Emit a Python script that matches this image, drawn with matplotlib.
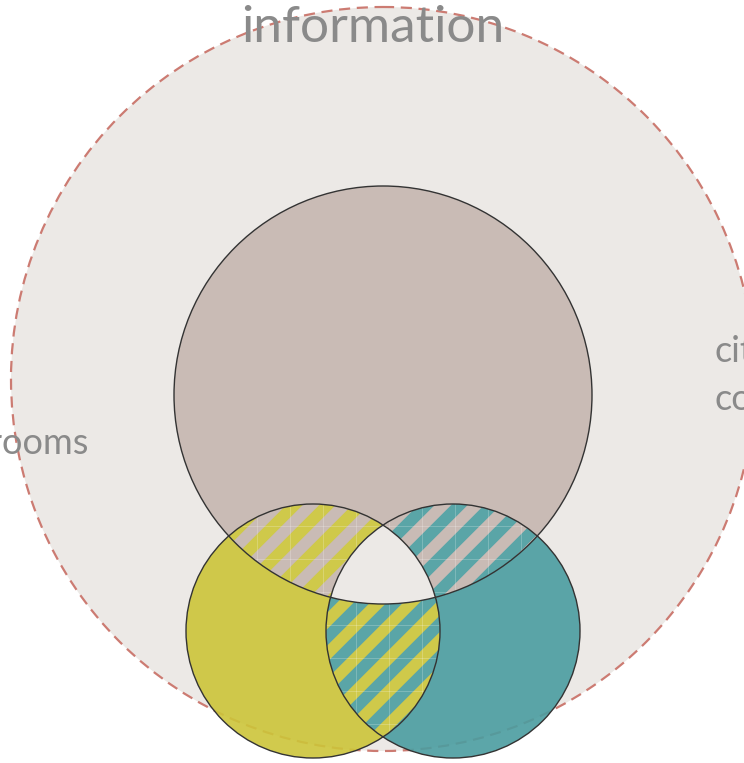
import numpy as np
import matplotlib.pyplot as plt
from matplotlib.patches import Circle, Polygon
from matplotlib.collections import LineCollection

# circles: outer dashed set, inner set, two lower sets
circle_names = ["information", "inner", "classrooms", "city councils"]
circle_x = [383, 383, 313, 453]
circle_y = [379, 395, 631, 631]
circle_r = [372, 209, 127, 127]
circle_colors = ["#ece9e6", "#c9bbb5", "#cfc94a", "#5aa5a7"]
# the two lower sets are slightly see-through; these give the same look at alpha 0.9
fill_colors = ["#ece9e6", "#c9bbb5", "#ccc539", "#4a9da0"]

# pairs of overlapping sets that get striped (indices into the lists above)
striped_pairs = [(1, 2), (1, 3), (2, 3)]

label_text = ["information", "classrooms", "city", "councils"]

text_color = "#8a8a8a"
edge_color = "#333333"
dash_color = "#cc7b72"


def circle_poly(i, n=720):
    t = np.linspace(0, 2 * np.pi, n, endpoint=False)
    return [(circle_x[i] + circle_r[i] * np.cos(a), circle_y[i] + circle_r[i] * np.sin(a)) for a in t]


def clip_convex(subject, clipper):
    # Sutherland-Hodgman, both polygons convex with the same orientation
    def inside(p, a, b):
        return (b[0] - a[0]) * (p[1] - a[1]) - (b[1] - a[1]) * (p[0] - a[0]) >= 0

    def cross_pt(s, p, a, b):
        x1, y1 = s
        x2, y2 = p
        x3, y3 = a
        x4, y4 = b
        d = (x1 - x2) * (y3 - y4) - (y1 - y2) * (x3 - x4)
        u = ((x1 - x3) * (y3 - y4) - (y1 - y3) * (x3 - x4)) / d
        return (x1 + u * (x2 - x1), y1 + u * (y2 - y1))

    out = list(subject)
    for k in range(len(clipper)):
        a = clipper[k]
        b = clipper[(k + 1) % len(clipper)]
        inp = out
        out = []
        if not inp:
            break
        s = inp[-1]
        for p in inp:
            if inside(p, a, b):
                if not inside(s, a, b):
                    out.append(cross_pt(s, p, a, b))
                out.append(p)
            elif inside(s, a, b):
                out.append(cross_pt(s, p, a, b))
            s = p
    return out


fig = plt.figure(figsize=(7.44, 7.63), dpi=100)
ax = fig.add_axes([0, 0, 1, 1])
ax.set_xlim(0, 744)
ax.set_ylim(763, 0)
ax.set_aspect("equal")
ax.axis("off")

# big outer set
ax.add_patch(Circle((circle_x[0], circle_y[0]), circle_r[0], facecolor=circle_colors[0],
                    edgecolor="none", zorder=1))
ax.add_patch(Circle((circle_x[0], circle_y[0]), circle_r[0], facecolor="none",
                    edgecolor=dash_color, lw=1.6, linestyle=(0, (5, 3)), zorder=2))

ax.add_patch(Circle((circle_x[1], circle_y[1]), circle_r[1], facecolor=circle_colors[1],
                    edgecolor="none", zorder=3))
for i in (2, 3):
    ax.add_patch(Circle((circle_x[i], circle_y[i]), circle_r[i], facecolor=fill_colors[i],
                        edgecolor="none", alpha=0.9, zorder=4))

polys = [circle_poly(i) for i in range(4)]

# striped overlaps
period = 33
for a, b in striped_pairs:
    lens = clip_convex(polys[a], polys[b])
    clip_patch = Polygon(lens, closed=True, facecolor=circle_colors[a], edgecolor="none", zorder=5)
    ax.add_patch(clip_patch)
    segs = []
    for c in np.arange(7.5 - 60 * period, 7.5 + 60 * period, period):
        segs.append([(c - 1000, 1000), (c + 1000, -1000)])
    stripes = LineCollection(segs, colors=circle_colors[b], linewidths=8.4, capstyle="butt", zorder=6)
    stripes.set_clip_path(clip_patch)
    ax.add_collection(stripes)
    grid = []
    for gx in np.arange(26, 744, period):
        grid.append([(gx, 0), (gx, 763)])
    for gy in np.arange(31, 763, period):
        grid.append([(0, gy), (744, gy)])
    gl = LineCollection(grid, colors="white", linewidths=0.7, alpha=0.22, zorder=7)
    gl.set_clip_path(clip_patch)
    ax.add_collection(gl)

# centre where all three meet
triple = clip_convex(clip_convex(polys[1], polys[2]), polys[3])
ax.add_patch(Polygon(triple, closed=True, facecolor=circle_colors[0], edgecolor="none", zorder=8))

for i in (1, 2, 3):
    ax.add_patch(Circle((circle_x[i], circle_y[i]), circle_r[i], facecolor="none",
                        edgecolor=edge_color, lw=1.0, zorder=9))

font = dict(family="Lato", color=text_color, va="baseline", zorder=10)
ax.text(373, 42, label_text[0], fontsize=37, ha="center", **font)
ax.text(89, 454, label_text[1], fontsize=26, ha="right", **font)
ax.text(714, 362, label_text[2], fontsize=26, ha="left", **font)
ax.text(714, 410, label_text[3], fontsize=26, ha="left", **font)

fig.savefig("out.png", dpi=100)
